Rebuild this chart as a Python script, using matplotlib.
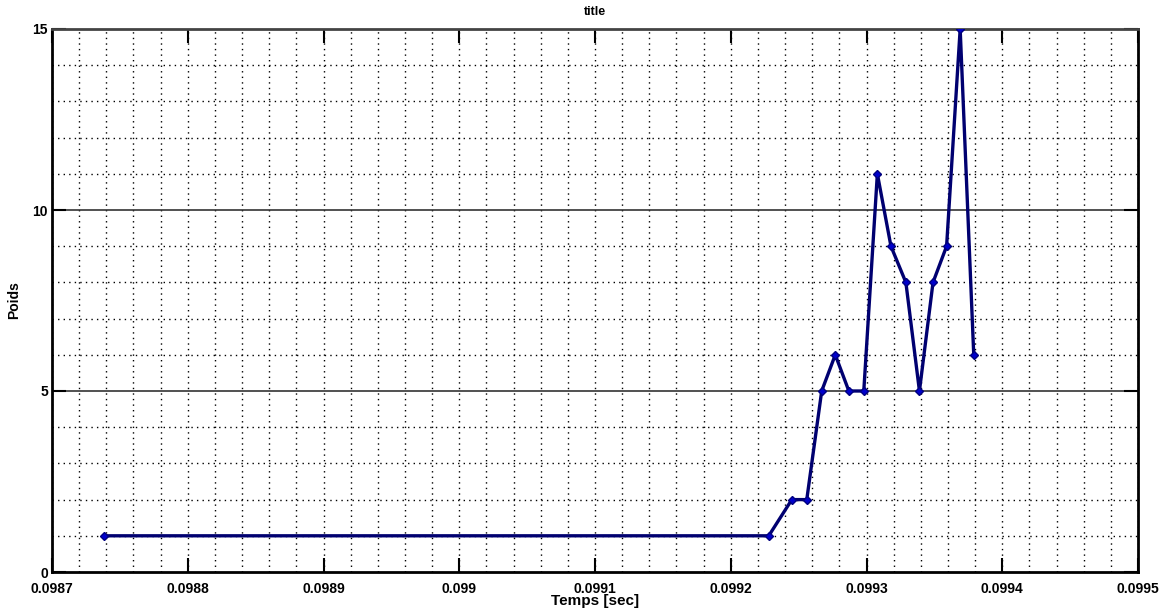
import matplotlib
matplotlib.use("Agg")
import matplotlib.pyplot as plt
from matplotlib.ticker import FixedLocator
import numpy as np

# Data
temps = [0.098738, 0.099228, 0.099245, 0.099256, 0.099267, 0.099277, 0.099287,
         0.099298, 0.099308, 0.099318, 0.099329, 0.099339, 0.099349, 0.099359,
         0.099369, 0.099379]
poids = [1, 1, 2, 2, 5, 6, 5, 5, 11, 9, 8, 5, 8, 9, 15, 6]
xticks = [0.0987, 0.0988, 0.0989, 0.0990, 0.0991, 0.0992, 0.0993, 0.0994, 0.0995]
xticklabels = ["0.0987", "0.0988", "0.0989", "0.099", "0.0991", "0.0992", "0.0993", "0.0994", "0.0995"]
yticks = [0, 5, 10, 15]

plt.rcParams['font.family'] = ['Liberation Sans Narrow', 'Liberation Sans', 'DejaVu Sans']

fig = plt.figure(figsize=(11.65, 6.10), dpi=100)
ax = fig.add_axes([52/1165, 38/610, (1138-52)/1165, (572-29)/610])

ax.set_xlim(0.0987, 0.0995)
ax.set_ylim(0, 15)

# minor grid (dotted)
for xv in np.arange(0.0987, 0.09951, 0.00002):
    ax.axvline(xv, color='black', linestyle=(0, (1, 3)), linewidth=1.0, zorder=1)
for yv in range(1, 15):
    if yv in (5, 10):
        ax.axhline(yv, color='#333333', linestyle='-', linewidth=1.2, zorder=1)
    else:
        ax.axhline(yv, color='black', linestyle=(0, (1, 3)), linewidth=1.0, zorder=1)

ax.plot(temps, poids, color='#000070', linewidth=2.4, marker='D', markersize=4,
        markerfacecolor='#0000CC', markeredgecolor='#000080', zorder=3)

ax.xaxis.set_major_locator(FixedLocator(xticks))
ax.set_xticklabels(xticklabels)
ax.yaxis.set_major_locator(FixedLocator(yticks))
ax.tick_params(axis='both', which='major', direction='in', length=10, width=1.5,
               top=True, right=True, labelsize=10)
for lab in ax.get_xticklabels() + ax.get_yticklabels():
    lab.set_fontweight('bold')
ax.tick_params(axis='x', pad=7)
ax.tick_params(axis='y', pad=3)

for side in ['left', 'bottom', 'right']:
    ax.spines[side].set_linewidth(2)
    ax.spines[side].set_color('black')
ax.spines['top'].set_linewidth(2)
ax.spines['top'].set_color('#444444')

ax.set_title('title', fontsize=9, fontweight='bold', pad=10)
ax.set_xlabel('Temps [sec]', fontsize=11, fontweight='bold', labelpad=-1)
ax.set_ylabel('Poids', fontsize=10, fontweight='bold', labelpad=8)

fig.savefig('out.png', dpi=100, facecolor='white')
